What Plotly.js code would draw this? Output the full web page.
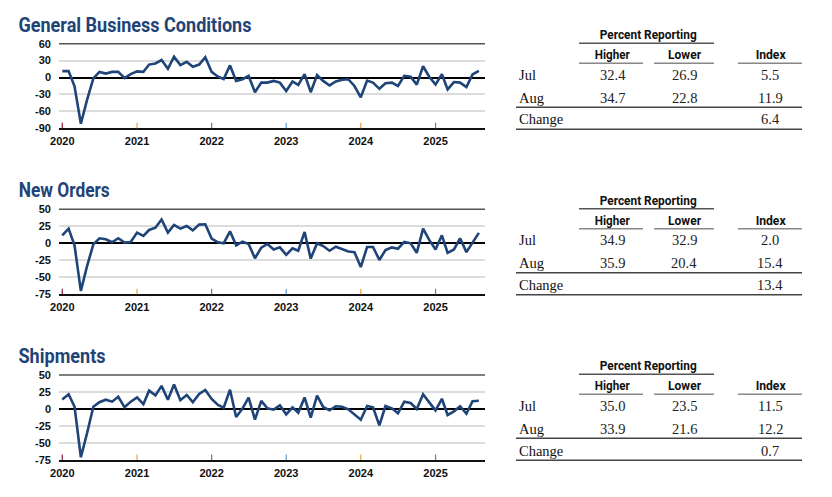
<!DOCTYPE html>
<html><head><meta charset="utf-8">
<script src="https://cdn.plot.ly/plotly-3.0.1.min.js"></script>
<style>html,body{margin:0;padding:0;background:#fff;}#chart{width:832px;height:497px;}</style>
</head><body><div id="chart"></div>
<script>
// ---- data ----
var startYear = 2020;
var nMonths = 68; // Jan 2020 .. Aug 2025
var panelTitles = ['General Business Conditions', 'New Orders', 'Shipments'];
var yearTicks = [2020, 2021, 2022, 2023, 2024, 2025];
var yearTickColors = ['#8b1a3a', '#f0a040', '#8a6a80', '#5b9bd5', '#f0a040', '#6b7f99'];

var generalBusiness = [11.4, 11.4, -15.6, -82, -40, -1.5, 10, 7, 10, 10, -1, 6,
  11, 10, 23, 25, 31, 15.5, 37, 22, 28, 19, 23, 36,
  10, 1.5, -2.6, 21.5, -6, -3, 3, -26, -9, -9, -6, -9,
  -24, -7, -13, 6, -26, 4.5, -6, -14, -7, -4, -3, -15,
  -35, -5.5, -9, -20, -10, -9, -15, 3, 1.5, -12.5, 20, 1.5,
  -12.5, 6, -21, -8, -9, -17, 5.5, 11.9];
var newOrders = [11.8, 21.6, -3, -70, -34, -1.5, 7.4, 6, 1.5, 7.4, 1, 2,
  15.7, 11, 19.6, 23, 35, 15.7, 27, 21.6, 25.5, 19, 27.5, 28,
  7, 1.5, 0, 17.6, -3, 2.5, -1, -22, -6.4, -1, -9, -6,
  -17, -7.4, -11, 16.7, -22.5, 0, -4, -11, -5, -9, -12, -13,
  -35, -5.4, -5.4, -24.5, -10, -6, -8, 2, 0, -14, 21.6, 5,
  -9, 11.8, -14, -9, 7.4, -13, 2.0, 15.4];
var shipments = [14, 21.6, 3.4, -71, -36, 3.4, 10, 13.7, 10.8, 18, 2.5, 10.8,
  17, 7, 27, 20, 34, 13.7, 36, 13, 20.6, 10, 22, 28,
  14.7, 6, 2, 28.4, -11.8, 0.5, 16.7, -15.7, 12, 1, -1, 5.4,
  -7.8, 2.5, -5.4, 17, -12.7, 19.6, 3, -2, 4, 3.4, -0.5, -7.4,
  -15.7, 4.4, 2.5, -24, 4.4, 1, -6.4, 10.8, 8.8, 0, 21.6, 9.8,
  -2, 15, -8.8, -3.4, 4, -7, 11.5, 12.2];

var yTicks1 = [60, 30, 0, -30, -60, -90];
var yTicks23 = [50, 25, 0, -25, -50, -75];

var tableMonths = ['Jul', 'Aug'];
var changeLabel = 'Change';
var tableHeader = 'Percent Reporting';
var colHeaders = ['Higher', 'Lower', 'Index'];
var gbHigher = [32.4, 34.7], gbLower = [26.9, 22.8], gbIndex = [5.5, 11.9], gbChange = 6.4;
var noHigher = [34.9, 35.9], noLower = [32.9, 20.4], noIndex = [2.0, 15.4], noChange = 13.4;
var shHigher = [35.0, 33.9], shLower = [23.5, 21.6], shIndex = [11.5, 12.2], shChange = 0.7;

// ---- build ----
var W = 832, H = 497;
function px(x) { return x / W; }
function py(y) { return 1 - y / H; }

var dates = [];
for (var i = 0; i < nMonths; i++) {
  var y = startYear + Math.floor(i / 12), m = (i % 12) + 1;
  dates.push(y + '-' + (m < 10 ? '0' + m : m) + '-01');
}
var tickDates = yearTicks.map(function (y) { return y + '-01-01'; });

var series = [generalBusiness, newOrders, shipments];
var tables = [
  { h: gbHigher, l: gbLower, idx: gbIndex, ch: gbChange },
  { h: noHigher, l: noLower, idx: noIndex, ch: noChange },
  { h: shHigher, l: shLower, idx: shIndex, ch: shChange }
];
var plotTop = [43.7, 209.3, 375.0];
var plotBottom = [128.3, 294.3, 460.0];
var titleY = [25, 190.5, 356.5];
var titleCenterX = [134.5, 64.5, 61.7];
var titleWidth = [233, 91, 87];
var panelOff = [0, 165.5, 331];

var titleFont = 'Liberation Sans Narrow, Arial Narrow, Roboto, sans-serif';
var serif = 'Liberation Serif, Times New Roman, serif';
var blue = '#1f4477';

var traces = [], shapes = [], annotations = [];
var squeeze = {}; // annotation index -> target width in px
var layout = {
  width: W, height: H,
  margin: { l: 0, r: 0, t: 0, b: 0 },
  paper_bgcolor: '#fff', plot_bgcolor: '#fff',
  showlegend: false
};

function addAnn(a, width) {
  if (width) squeeze[annotations.length] = width;
  annotations.push(a);
}

for (var p = 0; p < 3; p++) {
  var sfx = p === 0 ? '' : String(p + 1);
  traces.push({
    x: dates, y: series[p], type: 'scatter', mode: 'lines',
    xaxis: 'x' + sfx, yaxis: 'y' + sfx,
    line: { color: blue, width: 2.6 }, hoverinfo: 'skip'
  });
  var ticks = p === 0 ? yTicks1 : yTicks23;
  layout['xaxis' + sfx] = {
    domain: [px(59), px(485)], anchor: 'y' + sfx, type: 'date',
    range: ['2019-12-16', '2025-08-31'],
    tickvals: tickDates, ticktext: yearTicks.map(String),
    ticks: '', showgrid: false, zeroline: false,
    showline: true, linecolor: '#111', linewidth: 1.5,
    tickfont: { family: 'Liberation Sans, Arial, sans-serif', size: 11, color: '#111', weight: 'bold' },
    ticklabelstandoff: 2, fixedrange: true
  };
  layout['yaxis' + sfx] = {
    domain: [py(plotBottom[p]), py(plotTop[p])], anchor: 'x' + sfx,
    range: [ticks[ticks.length - 1], ticks[0]],
    tickvals: ticks, ticktext: ticks.map(String),
    ticks: '', showgrid: true, gridcolor: '#dcdcdc', gridwidth: 2,
    zeroline: true, zerolinecolor: '#000', zerolinewidth: 2,
    showline: false,
    tickfont: { family: 'Liberation Sans, Arial, sans-serif', size: 11, color: '#111', weight: 'bold' },
    ticklabelstandoff: 7, fixedrange: true
  };
  shapes.push({ type: 'line', xref: 'x' + sfx + ' domain', yref: 'y' + sfx + ' domain',
    x0: 0, x1: 1, y0: 1, y1: 1, line: { color: '#555', width: 1.5 } });
  for (var k = 0; k < yearTicks.length; k++) {
    shapes.push({ type: 'line', xref: 'x' + sfx, yref: 'y' + sfx + ' domain',
      x0: tickDates[k], x1: tickDates[k], y0: 0, y1: 0.065,
      line: { color: yearTickColors[k], width: 1.2 } });
  }
  addAnn({ text: panelTitles[p], xref: 'paper', yref: 'paper',
    x: px(titleCenterX[p]), y: py(titleY[p]), xanchor: 'center', yanchor: 'middle', showarrow: false,
    font: { family: titleFont, size: 19.5, color: blue, weight: 'bold' } }, titleWidth[p]);

  // ---- table ----
  var o = panelOff[p], t = tables[p];
  var colX = [612.7, 684, 770];
  var colW = [35, 33, 30];
  addAnn({ text: tableHeader, xref: 'paper', yref: 'paper', x: px(648), y: py(34 + o),
    xanchor: 'center', yanchor: 'middle', showarrow: false,
    font: { family: titleFont, size: 13.5, color: '#111', weight: 'bold' } }, 97);
  shapes.push({ type: 'line', xref: 'paper', yref: 'paper', x0: px(579), x1: px(714),
    y0: py(43.3 + o), y1: py(43.3 + o), line: { color: '#555', width: 1.5 } });
  for (var c = 0; c < 3; c++) {
    addAnn({ text: colHeaders[c], xref: 'paper', yref: 'paper', x: px(colX[c]), y: py(54.3 + o),
      xanchor: 'center', yanchor: 'middle', showarrow: false,
      font: { family: titleFont, size: 13.5, color: '#111', weight: 'bold' } }, colW[c]);
  }
  var subLines = [[579, 643], [654, 714], [738, 802]];
  subLines.forEach(function (s) {
    shapes.push({ type: 'line', xref: 'paper', yref: 'paper', x0: px(s[0]), x1: px(s[1]),
      y0: py(63.3 + o), y1: py(63.3 + o), line: { color: '#888', width: 1.5 } });
  });
  var rowY = [74.5, 97.5];
  for (var r = 0; r < 2; r++) {
    addAnn({ text: tableMonths[r], xref: 'paper', yref: 'paper', x: px(517), y: py(rowY[r] + o),
      xanchor: 'left', yanchor: 'middle', showarrow: false,
      font: { family: serif, size: 14.5, color: '#111' } });
    var vals = [t.h[r], t.l[r], t.idx[r]];
    for (var c2 = 0; c2 < 3; c2++) {
      addAnn({ text: vals[c2].toFixed(1), xref: 'paper', yref: 'paper', x: px(colX[c2]), y: py(rowY[r] + o),
        xanchor: 'center', yanchor: 'middle', showarrow: false,
        font: { family: serif, size: 14.5, color: '#222' } });
    }
  }
  shapes.push({ type: 'line', xref: 'paper', yref: 'paper', x0: px(516), x1: px(802),
    y0: py(107.3 + o), y1: py(107.3 + o), line: { color: '#444', width: 1.5 } });
  addAnn({ text: changeLabel, xref: 'paper', yref: 'paper', x: px(517), y: py(119.5 + o),
    xanchor: 'left', yanchor: 'middle', showarrow: false,
    font: { family: serif, size: 14.5, color: '#111' } });
  addAnn({ text: t.ch.toFixed(1), xref: 'paper', yref: 'paper', x: px(770), y: py(119.5 + o),
    xanchor: 'center', yanchor: 'middle', showarrow: false,
    font: { family: serif, size: 14.5, color: '#222' } });
  shapes.push({ type: 'line', xref: 'paper', yref: 'paper', x0: px(516), x1: px(802),
    y0: py(129.3 + o), y1: py(129.3 + o), line: { color: '#444', width: 1.5 } });
}
layout.shapes = shapes;
layout.annotations = annotations;

Plotly.newPlot('chart', traces, layout, { displayModeBar: false, staticPlot: true }).then(function (gd) {
  // condense the sans headings to mimic the narrow typeface of the original
  Object.keys(squeeze).forEach(function (idx) {
    var g = gd.querySelector('g.annotation[data-index="' + idx + '"] text.annotation-text');
    if (!g) return;
    var w = g.getComputedTextLength();
    if (w > squeeze[idx]) {
      g.setAttribute('textLength', squeeze[idx]);
      g.setAttribute('lengthAdjust', 'spacingAndGlyphs');
    }
  });
});
</script>
</body></html>
